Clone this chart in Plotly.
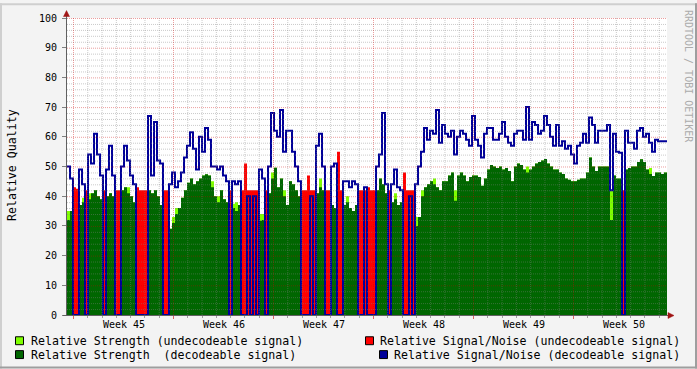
import numpy as np
import plotly.graph_objects as go

# ---------------- data ----------------
BIN_DAYS = 0.21          # one consolidated sample = 0.21 day (~5 h)
N_BINS = 200
WEEK0 = 0.455            # first week boundary, days after start of graph
week_labels = ["Week 45", "Week 46", "Week 47", "Week 48", "Week 49", "Week 50"]

# Relative Signal/Noise (decodeable signal)
snr_dec = [
    50, 46, 0, 0, 49, 44, 0, 54, 51, 61,
    54, 47, 0, 49, 57, 47, 0, 0, 50, 57,
    52, 47, 44, 0, 0, 0, 0, 67, 47, 65,
    52, 51, 0, 0, 44, 48, 43, 45, 48, 53,
    57, 61.5, 56, 49, 60, 55, 63, 59, 50, 50,
    49, 50, 47, 45, 0, 45, 44, 45, 0, 0,
    40, 0, 40, 0, 49, 46, 0, 50, 68, 62,
    60, 69, 55, 62, 62, 55, 50, 45, 0, 0,
    0, 40, 0, 57, 61, 50, 0, 0, 50, 51,
    0, 0, 45, 45, 43, 45, 44, 0, 0, 43,
    0, 0, 0, 50, 54, 68, 44, 0, 44, 49,
    43, 42, 0, 0, 40, 0, 44, 50, 55, 63,
    59, 62, 61, 69, 58, 64, 61, 60, 62, 54,
    60, 62, 61, 59, 57, 67, 59, 57, 53, 61,
    63, 63, 59, 59, 61, 65, 60, 58, 57, 61,
    62, 62, 59, 70, 59, 65, 64, 61, 62, 67,
    64, 60, 57, 64, 57, 58.5, 56, 57, 54, 51,
    57, 58, 61, 58, 66.5, 64, 58, 62, 62, 62,
    64, 42, 61, 55, 54.6, 0, 62, 58, 58, 56,
    62, 63, 60, 61, 58, 55, 59, 58.5, 58.5, 58.5,
]

# Relative Strength (decodeable signal)
str_dec = [
    32, 35, 0, 0, 37, 38, 0, 39, 41, 42,
    40, 39, 0, 40, 41, 40, 0, 0, 42, 43,
    41, 40, 38, 0, 0, 0, 0, 42, 41, 42,
    40, 37, 0, 0, 29, 31, 34, 36, 39.5, 42,
    44.5, 46, 44, 45, 46, 47, 47.4, 47, 43, 40,
    38, 42, 39, 38, 0, 36, 35, 37, 0, 0,
    0, 0, 0, 0, 31.7, 32, 0, 41, 46, 49.6,
    43, 46, 40, 37, 45, 44, 42, 40, 0, 0,
    0, 0, 0, 41, 43, 42, 0, 0, 37, 36,
    0, 0, 37, 38, 36, 35, 37, 0, 0, 0,
    0, 0, 0, 42, 46, 44, 41, 0, 38, 39,
    37, 38, 0, 0, 0, 0, 30, 33, 40, 43,
    44, 45, 44, 43, 42, 45, 45, 47, 48, 38.5,
    47, 48, 47, 45, 46.5, 47, 47, 46.5, 43.5, 46,
    49, 50.5, 50, 49.5, 50, 49, 49.5, 48.5, 45, 50,
    51, 50.5, 49, 48, 49, 50, 51, 51.5, 52, 52.5,
    51, 50, 49, 49, 48, 47.5, 46, 45.5, 45, 45,
    45.5, 46, 46, 48, 53, 50, 48.5, 50, 50, 50,
    50, 32, 47, 46, 46, 0, 49, 49.5, 50, 50,
    51.5, 52.4, 51.5, 49, 47.5, 46.8, 48, 48, 47.5, 48,
]

# Relative Signal/Noise (undecodeable signal): samples where it is present
undec_bins = [2, 3, 6, 12, 16, 17, 23, 24, 25, 26, 32, 33, 54, 58, 59, 60, 61, 62, 63, 66,
              78, 79, 80, 81, 82, 86, 87, 90, 91, 97, 98, 99, 100, 101, 102, 107, 112, 113,
              114, 115, 185]
undec_snr = [43, 42.5, 42, 42, 42, 42, 43, 42, 42, 42, 42, 42, 42, 42, 51, 42, 42, 42, 42, 42,
             42, 42, 47, 42, 42, 42, 42, 55, 42, 42, 42, 42, 43, 42, 42, 42, 48, 42,
             42, 42, 42]

# Relative Strength (undecodeable signal): samples where it shows above the decodeable one
lg_bins = [0, 5, 7, 20, 35, 36, 48, 50, 55, 56, 64, 65, 68, 72, 84, 93, 109, 116,
           118, 122, 129, 153, 181, 194]
lg_vals = [35, 39.5, 41, 43, 33, 36, 45, 40, 37.5, 38, 34, 34, 48, 42, 46, 40, 41, 33,
           42, 46, 42, 50, 42, 49.5]

# ---------------- build series ----------------
t = np.arange(N_BINS + 1) * BIN_DAYS
X_END = N_BINS * BIN_DAYS

snr_undec = np.zeros(N_BINS)
snr_undec[undec_bins] = undec_snr
str_undec = np.array(str_dec, dtype=float)
str_undec[lg_bins] = lg_vals


def ext(v):
    v = list(v)
    return v + [v[-1]]


C_LG = "#7FFF00"
C_DG = "#006600"
C_RED = "#FF0000"
C_BLUE = "#000099"
FONT = "DejaVu Sans Mono"

fig = go.Figure()


def area(vals, color):
    fig.add_trace(go.Scatter(x=t, y=ext(vals), mode="lines",
                             line=dict(shape="hv", width=0, color=color),
                             fill="tozeroy", fillcolor=color, hoverinfo="skip"))


area(str_undec, C_LG)
area(str_dec, C_DG)
area(snr_undec, C_RED)
fig.add_trace(go.Scatter(x=t, y=ext(snr_dec), mode="lines",
                         line=dict(shape="hv", width=2, color=C_BLUE), hoverinfo="skip"))

# ---------------- layout helpers ----------------
W, H = 697, 369
L, R, T, B = 67, 30, 15, 54
PW, PH = W - L - R, H - T - B


def PX(x):
    return (x - L) / PW


def PY(y):
    return (T + PH - y) / PH


shapes = []
HALF_Y = 100 / PH / 2
MINOR = "rgba(128,128,128,0.42)"
MAJOR = "rgba(205,0,0,0.38)"
DASH = "1px,1px"
for v in range(2, 101, 2):
    col = MAJOR if v % 10 == 0 else MINOR
    shapes.append(dict(type="line", xref="paper", yref="y", x0=0, x1=1,
                       y0=v - HALF_Y, y1=v - HALF_Y, layer="above",
                       line=dict(color=col, width=1, dash=DASH)))
k = 0
while WEEK0 + k < X_END:
    xv = WEEK0 + k
    col = MAJOR if k % 7 == 0 else MINOR
    shapes.append(dict(type="line", xref="x", yref="paper", x0=xv, x1=xv, y0=0, y1=1,
                       layer="above", line=dict(color=col, width=1, dash=DASH)))
    k += 1

AXIS = "#606060"
# axis lines
shapes.append(dict(type="line", xref="paper", yref="paper", x0=PX(66.5), x1=PX(66.5),
                   y0=PY(315), y1=PY(11), line=dict(color=AXIS, width=1), layer="above"))
shapes.append(dict(type="line", xref="paper", yref="paper", x0=PX(63), x1=PX(670),
                   y0=PY(315.5), y1=PY(315.5), line=dict(color=AXIS, width=1), layer="above"))
ARROW = "#A01515"
shapes.append(dict(type="path", xref="paper", yref="paper", layer="above",
                   path=f"M {PX(66.5)},{PY(7.5)} L {PX(63.5)},{PY(13.5)} L {PX(69.5)},{PY(13.5)} Z",
                   fillcolor=ARROW, line=dict(color=ARROW, width=0.5)))
shapes.append(dict(type="path", xref="paper", yref="paper", layer="above",
                   path=f"M {PX(674)},{PY(315.5)} L {PX(668)},{PY(312.5)} L {PX(668)},{PY(318.5)} Z",
                   fillcolor=ARROW, line=dict(color=ARROW, width=0.5)))

# frame
shapes.append(dict(type="line", xref="paper", yref="paper", x0=PX(0), x1=PX(W),
                   y0=PY(1), y1=PY(1), line=dict(color="#CFCFCF", width=2)))
shapes.append(dict(type="line", xref="paper", yref="paper", x0=PX(1), x1=PX(1),
                   y0=PY(0), y1=PY(H), line=dict(color="#CFCFCF", width=2)))
shapes.append(dict(type="line", xref="paper", yref="paper", x0=PX(0), x1=PX(W),
                   y0=PY(H - 1), y1=PY(H - 1), line=dict(color="#9E9E9E", width=2)))
shapes.append(dict(type="line", xref="paper", yref="paper", x0=PX(W - 1), x1=PX(W - 1),
                   y0=PY(0), y1=PY(H), line=dict(color="#9E9E9E", width=2)))

annotations = []
for i, lab in enumerate(week_labels):
    annotations.append(dict(x=WEEK0 + 3.5 + 7 * i, y=PY(325), xref="x", yref="paper",
                            text=lab, showarrow=False, xanchor="center", yanchor="middle",
                            font=dict(family=FONT, size=10, color="#000000")))
annotations.append(dict(x=PX(11.5), y=PY(164), xref="paper", yref="paper",
                        text="Relative Quality", textangle=-90, showarrow=False,
                        xanchor="center", yanchor="middle",
                        font=dict(family=FONT, size=11.6, color="#000000")))
annotations.append(dict(x=PX(688.5), y=PY(74), xref="paper", yref="paper",
                        text="RRDTOOL / TOBI OETIKER", textangle=90, showarrow=False,
                        xanchor="center", yanchor="middle",
                        font=dict(family=FONT, size=10, color="#ABABAB")))

legend_items = [
    ("Relative Strength (undecodeable signal)", C_LG, 15, 341, "left"),
    ("Relative Strength  (decodeable signal)", C_DG, 15, 355, "left"),
    ("Relative Signal/Noise (undecodeable signal)", C_RED, 365, 341, "right"),
    ("Relative Signal/Noise (decodeable signal)", C_BLUE, 379, 355, "right"),
]
for text, col, sx, cy, side in legend_items:
    shapes.append(dict(type="rect", xref="paper", yref="paper",
                       x0=PX(sx + 0.5), x1=PX(sx + 8.5), y0=PY(cy - 4), y1=PY(cy + 4),
                       fillcolor=col, line=dict(color="#000000", width=1)))
    if side == "left":
        annotations.append(dict(x=PX(sx + 14), y=PY(cy), xref="paper", yref="paper",
                                text=text.replace(" ", "&nbsp;"), showarrow=False,
                                xanchor="left", yanchor="middle",
                                font=dict(family=FONT, size=11.6, color="#000000")))
    else:
        annotations.append(dict(x=PX(682), y=PY(cy), xref="paper", yref="paper",
                                text=text.replace(" ", "&nbsp;"), showarrow=False,
                                xanchor="right", yanchor="middle",
                                font=dict(family=FONT, size=11.6, color="#000000")))

fig.update_layout(
    width=W, height=H, autosize=False,
    margin=dict(l=L, r=R, t=T, b=B, pad=0),
    paper_bgcolor="#F3F3F3", plot_bgcolor="#FFFFFF",
    showlegend=False,
    shapes=shapes, annotations=annotations,
    xaxis=dict(range=[0, X_END], tickmode="linear", tick0=WEEK0, dtick=7,
               showticklabels=False, showgrid=False, zeroline=False, showline=False,
               ticks="outside", ticklen=3, tickcolor="#E06060", tickwidth=1,
               minor=dict(tick0=WEEK0, dtick=1, ticks="outside", ticklen=2,
                          tickcolor="#A0A0A0", showgrid=False)),
    yaxis=dict(range=[0, 100], tickmode="linear", tick0=0, dtick=10,
               showgrid=False, zeroline=False, showline=False,
               ticks="outside", ticklen=4, tickcolor="#808080", ticklabelstandoff=3,
               tickfont=dict(family=FONT, size=10, color="#000000")),
)

fig.write_html("out.html")
